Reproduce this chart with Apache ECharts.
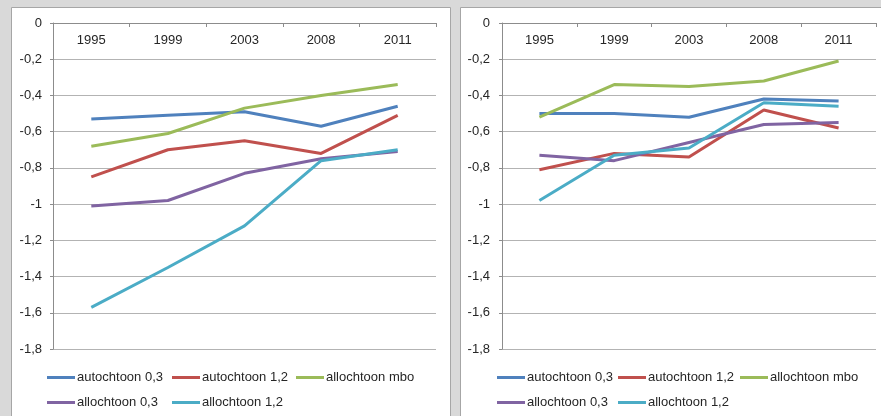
<!DOCTYPE html>
<html>
<head>
<meta charset="utf-8">
<script src="https://cdn.jsdelivr.net/npm/echarts@6/dist/echarts.min.js"></script>
<style>
html,body{margin:0;padding:0;background:#d9d9d9;}
#chart{width:881px;height:416px;}
</style>
</head>
<body>
<div id="chart"></div>
<script>
const years = ['1995', '1999', '2003', '2008', '2011'];
const seriesNames = ['autochtoon 0,3', 'autochtoon 1,2', 'allochtoon mbo', 'allochtoon 0,3', 'allochtoon 1,2'];
const colors = ['#4F81BD', '#C0504D', '#9BBB59', '#8064A2', '#4BACC6'];

// Left panel
const leftAutochtoon03 = [-0.53, -0.51, -0.49, -0.57, -0.46];
const leftAutochtoon12 = [-0.85, -0.70, -0.65, -0.72, -0.51];
const leftAllochtoonMbo = [-0.68, -0.61, -0.47, -0.40, -0.34];
const leftAllochtoon03 = [-1.01, -0.98, -0.83, -0.75, -0.71];
const leftAllochtoon12 = [-1.57, -1.35, -1.12, -0.76, -0.70];

// Right panel
const rightAutochtoon03 = [-0.50, -0.50, -0.52, -0.42, -0.43];
const rightAutochtoon12 = [-0.81, -0.72, -0.74, -0.48, -0.58];
const rightAllochtoonMbo = [-0.52, -0.34, -0.35, -0.32, -0.21];
const rightAllochtoon03 = [-0.73, -0.76, -0.66, -0.56, -0.55];
const rightAllochtoon12 = [-0.98, -0.73, -0.69, -0.44, -0.46];

const leftData = [leftAutochtoon03, leftAutochtoon12, leftAllochtoonMbo, leftAllochtoon03, leftAllochtoon12];
const rightData = [rightAutochtoon03, rightAutochtoon12, rightAllochtoonMbo, rightAllochtoon03, rightAllochtoon12];

const FONT = 'Liberation Sans';
const textColor = '#262626';

function xAxisCfg(gi) {
  return {
    type: 'category', gridIndex: gi, data: years, position: 'top',
    boundaryGap: true,
    axisLine: { show: true, lineStyle: { color: '#8c8c8c', width: 1 } },
    axisTick: { show: true, inside: true, length: 4, lineStyle: { color: '#8c8c8c' } },
    axisLabel: { inside: true, margin: 11, color: textColor, fontSize: 13, fontFamily: FONT },
    splitLine: { show: false }
  };
}
function yAxisCfg(gi, margin) {
  return {
    type: 'value', gridIndex: gi, min: -1.8, max: 0, interval: 0.2,
    axisLine: { show: true, lineStyle: { color: '#8c8c8c', width: 1 } },
    axisTick: { show: true, length: 3, lineStyle: { color: '#8c8c8c' } },
    axisLabel: {
      margin: margin, color: textColor, fontSize: 13, fontFamily: FONT,
      formatter: v => String(Math.round(v * 10) / 10).replace('.', ',')
    },
    splitLine: { show: true, lineStyle: { color: '#b3b3b3', width: 1 } }
  };
}

const series = [];
seriesNames.forEach((n, i) => {
  series.push({ name: n, type: 'line', xAxisIndex: 0, yAxisIndex: 0, data: leftData[i],
    symbol: 'none', lineStyle: { width: 3, color: colors[i] }, itemStyle: { color: colors[i] } });
});
seriesNames.forEach((n, i) => {
  series.push({ name: n, type: 'line', xAxisIndex: 1, yAxisIndex: 1, data: rightData[i],
    symbol: 'none', lineStyle: { width: 3, color: colors[i] }, itemStyle: { color: colors[i] } });
});

const legendPos = [
  [47, 371], [172, 371], [296, 371], [47, 396], [172, 396]
];
const legendPosR = [
  [497, 371], [618, 371], [740, 371], [497, 396], [618, 396]
];
const legends = [];
function addLegends(pos) {
  seriesNames.forEach((n, i) => {
    legends.push({
      data: [{ name: n, itemStyle: { color: colors[i] } }],
      left: pos[i][0], top: pos[i][1], padding: 0,
      icon: 'rect', itemWidth: 28, itemHeight: 3,
      selectedMode: false,
      textStyle: { color: textColor, fontSize: 13, fontFamily: FONT, padding: [0, 0, 0, -3] }
    });
  });
}
addLegends(legendPos);
addLegends(legendPosR);

const chart = echarts.init(document.getElementById('chart'), null, { renderer: 'canvas' });
chart.setOption({
  backgroundColor: '#d9d9d9',
  animation: false,
  graphic: [
    { type: 'rect', shape: { x: 11.5, y: 7.5, width: 439, height: 430 }, style: { fill: '#ffffff', stroke: '#a6a6a6', lineWidth: 1 }, z: -10 },
    { type: 'rect', shape: { x: 460.5, y: 7.5, width: 440, height: 430 }, style: { fill: '#ffffff', stroke: '#a6a6a6', lineWidth: 1 }, z: -10 }
  ],
  grid: [
    { left: 53, top: 23, width: 383, height: 326 },
    { left: 502, top: 23, width: 374, height: 326 }
  ],
  xAxis: [xAxisCfg(0), xAxisCfg(1)],
  yAxis: [yAxisCfg(0, 11), yAxisCfg(1, 12)],
  legend: legends,
  series: series
});
</script>
</body>
</html>
